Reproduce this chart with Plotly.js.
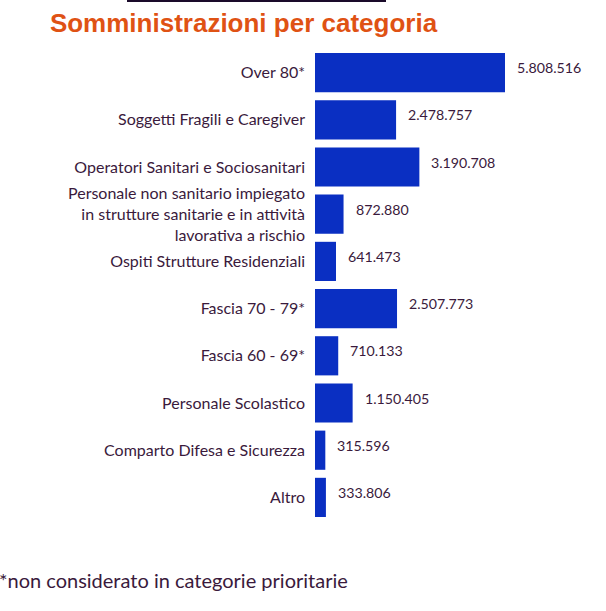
<!DOCTYPE html>
<html>
<head>
<meta charset="utf-8">
<script src="https://cdn.plot.ly/plotly-3.0.1.min.js"></script>
<style>html,body{margin:0;padding:0;background:#fff;}#chart{width:606px;height:611px;}</style>
</head>
<body>
<div id="chart"></div>
<script>
const categories = [
  "Over 80*",
  "Soggetti Fragili e Caregiver",
  "Operatori Sanitari e Sociosanitari",
  "Personale non sanitario impiegato<br>in strutture sanitarie e in attività<br>lavorativa a rischio",
  "Ospiti Strutture Residenziali",
  "Fascia 70 - 79*",
  "Fascia 60 - 69*",
  "Personale Scolastico",
  "Comparto Difesa e Sicurezza",
  "Altro"
];
const values = [5808516, 2478757, 3190708, 872880, 641473, 2507773, 710133, 1150405, 315596, 333806];
const valueLabels = ["5.808.516", "2.478.757", "3.190.708", "872.880", "641.473", "2.507.773", "710.133", "1.150.405", "315.596", "333.806"];

const textColor = "#3a1a3c";
const fontFam = "Lato, Open Sans, sans-serif";

const trace = {
  type: "bar",
  orientation: "h",
  x: values,
  y: categories,
  marker: {color: "#0a2fc2", line: {width: 0}},
  hoverinfo: "none"
};

const annotations = values.map((v, i) => ({
  x: v, y: categories[i], xref: "x", yref: "y",
  text: valueLabels[i], showarrow: false,
  xanchor: "left", yanchor: "middle", xshift: 10, yshift: 5,
  font: {family: fontFam, size: 14.2, color: textColor}
}));
annotations.push({
  xref: "paper", yref: "paper", x: -1.575, y: -0.125,
  xanchor: "left", yanchor: "middle", showarrow: false, xshift: -3,
  text: "*non considerato in categorie prioritarie",
  font: {family: fontFam, size: 20, color: textColor}
});

const layout = {
  width: 606, height: 611,
  margin: {l: 315, r: 91, t: 49, b: 90},
  paper_bgcolor: "#ffffff", plot_bgcolor: "#ffffff",
  showlegend: false,
  bargap: 0.17,
  title: {
    text: "<b>Somministrazioni per categoria</b>",
    x: 243.5/606, xanchor: "center", xref: "container",
    y: 1 - 23/611, yanchor: "middle", yref: "container",
    font: {family: "Liberation Sans, Arial, sans-serif", size: 26, color: "#df5214"}
  },
  xaxis: {
    range: [0, 6114227], visible: false, fixedrange: true
  },
  yaxis: {
    autorange: "reversed", showgrid: false, zeroline: false, showline: false,
    ticks: "", ticklabelstandoff: 9,
    tickfont: {family: fontFam, size: 16, color: textColor}
  },
  annotations: annotations,
  shapes: [{
    type: "line", xref: "paper", yref: "paper",
    x0: -0.94, x1: 0.355, y0: 1.1017, y1: 1.1017,
    line: {color: "#1a0a2a", width: 2}
  }]
};

Plotly.newPlot("chart", [trace], layout, {displayModeBar: false, staticPlot: true});
</script>
</body>
</html>
